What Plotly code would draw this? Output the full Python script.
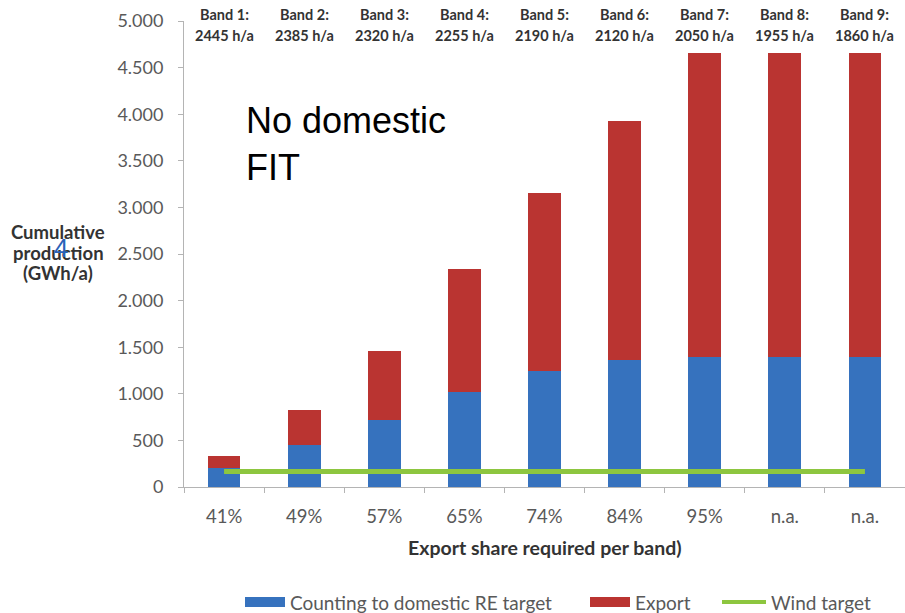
import plotly.graph_objects as go

# Bands with their full-load hours and the export share each band requires
bands = ["Band 1", "Band 2", "Band 3", "Band 4", "Band 5", "Band 6", "Band 7", "Band 8", "Band 9"]
full_load_hours = ["2445 h/a", "2385 h/a", "2320 h/a", "2255 h/a", "2190 h/a",
                   "2120 h/a", "2050 h/a", "1955 h/a", "1860 h/a"]
export_share = ["41%", "49%", "57%", "65%", "74%", "84%", "95%", "n.a.", "n.a."]

# Cumulative production (GWh/a)
domestic = [200, 450, 720, 1020, 1240, 1360, 1400, 1400, 1400]
export = [130, 380, 740, 1320, 1910, 2570, 3260, 3260, 3260]
wind_target = [165] * len(bands)

y_ticks = [0, 500, 1000, 1500, 2000, 2500, 3000, 3500, 4000, 4500, 5000]

series_names = ["Counting to domestic RE target", "Export", "Wind target"]

BLUE = "#3672be"
RED = "#ba3431"
GREEN = "#8dc63f"
AXIS = "#b4b4b4"
TICK_TEXT = "#595959"
TITLE_TEXT = "#333333"
FONT = "Lato"

W, H = 905, 613
PL, PR, PT, PB = 184, 905, 21, 487   # plot area edges in pixels


def px_x(px):
    return (px - PL) / (PR - PL)


def px_y(py):
    return (PB - py) / (PB - PT)


fig = go.Figure()
fig.add_trace(go.Bar(x=bands, y=domestic, name=series_names[0],
                     marker=dict(color=BLUE, line=dict(width=0)), width=0.41))
fig.add_trace(go.Bar(x=bands, y=export, name=series_names[1],
                     marker=dict(color=RED, line=dict(width=0)), width=0.41))
fig.add_trace(go.Scatter(x=bands, y=wind_target, name=series_names[2], mode="lines",
                         line=dict(color=GREEN, width=5)))

# Band headers above each column
for b, h in zip(bands, full_load_hours):
    for text, py in ((b + ":", 15), (h, 35)):
        fig.add_annotation(x=b, xref="x", y=px_y(py), yref="paper",
                           text=f"<b>{text}</b>", showarrow=False, yanchor="middle",
                           font=dict(family=FONT, size=14.5, color=TITLE_TEXT))

# Y axis title, one line per annotation
for text, py in (("Cumulative", 232), ("production", 253), ("(GWh/a)", 273)):
    fig.add_annotation(x=px_x(58), xref="paper", y=px_y(py), yref="paper",
                       text=f"<b>{text}</b>", showarrow=False,
                       xanchor="center", yanchor="middle",
                       font=dict(family=FONT, size=18.5, color=TITLE_TEXT))
fig.add_annotation(x=px_x(61), xref="paper", y=px_y(248), yref="paper",
                   text="4", showarrow=False, xanchor="center", yanchor="middle",
                   font=dict(family="Liberation Sans", size=26, color="#2a62b8"))

# X axis title
fig.add_annotation(x=px_x(545), xref="paper", y=px_y(547), yref="paper",
                   text="<b>Export share required per band)</b>", showarrow=False,
                   xanchor="center", yanchor="middle",
                   font=dict(family=FONT, size=19.5, color=TITLE_TEXT))

# Free-standing note
fig.add_annotation(x=px_x(244), xref="paper", y=px_y(98), yref="paper",
                   text="No domestic<br>FIT", showarrow=False, xanchor="left", yanchor="top",
                   align="left",
                   font=dict(family="Liberation Sans", size=36, color="#000000"))

# Legend row below the axis title
LEG_Y = 602
legend_items = [
    ("rect", BLUE, 245, 285, series_names[0]),
    ("rect", RED, 590, 630, series_names[1]),
    ("line", GREEN, 722, 766, series_names[2]),
]
for kind, color, x0, x1, label in legend_items:
    if kind == "rect":
        fig.add_shape(type="rect", xref="paper", yref="paper",
                      x0=px_x(x0), x1=px_x(x1), y0=px_y(LEG_Y - 5), y1=px_y(LEG_Y + 5),
                      fillcolor=color, line=dict(width=0), layer="above")
    else:
        fig.add_shape(type="line", xref="paper", yref="paper",
                      x0=px_x(x0), x1=px_x(x1), y0=px_y(LEG_Y), y1=px_y(LEG_Y),
                      line=dict(color=color, width=4), layer="above")
    fig.add_annotation(x=px_x(x1 + 3), xref="paper", y=px_y(LEG_Y), yref="paper",
                       text=label, showarrow=False, xanchor="left", yanchor="middle",
                       font=dict(family=FONT, size=19, color=TICK_TEXT))

fig.update_layout(
    width=W, height=H,
    margin=dict(l=PL, r=W - PR, t=PT, b=H - PB, pad=0),
    paper_bgcolor="white", plot_bgcolor="white",
    barmode="stack", separators=",.",
    font=dict(family=FONT, size=18, color=TICK_TEXT),
    showlegend=False,
)
fig.update_xaxes(
    type="category", tickvals=bands, ticktext=export_share, tickson="boundaries",
    range=[-0.5, 8.5], showline=True, linecolor=AXIS, linewidth=1,
    ticks="outside", ticklen=5, tickcolor=AXIS, ticklabelstandoff=13,
    showgrid=False, zeroline=False,
    tickfont=dict(family=FONT, size=18.5, color=TICK_TEXT),
)
fig.update_yaxes(
    range=[0, 5000], tickvals=y_ticks, tickformat=",d",
    showline=True, linecolor=AXIS, linewidth=1,
    ticks="outside", ticklen=5, tickcolor=AXIS, ticklabelstandoff=11,
    showgrid=False, zeroline=False,
    tickfont=dict(family=FONT, size=18, color=TICK_TEXT),
)

fig.write_html("out.html")
